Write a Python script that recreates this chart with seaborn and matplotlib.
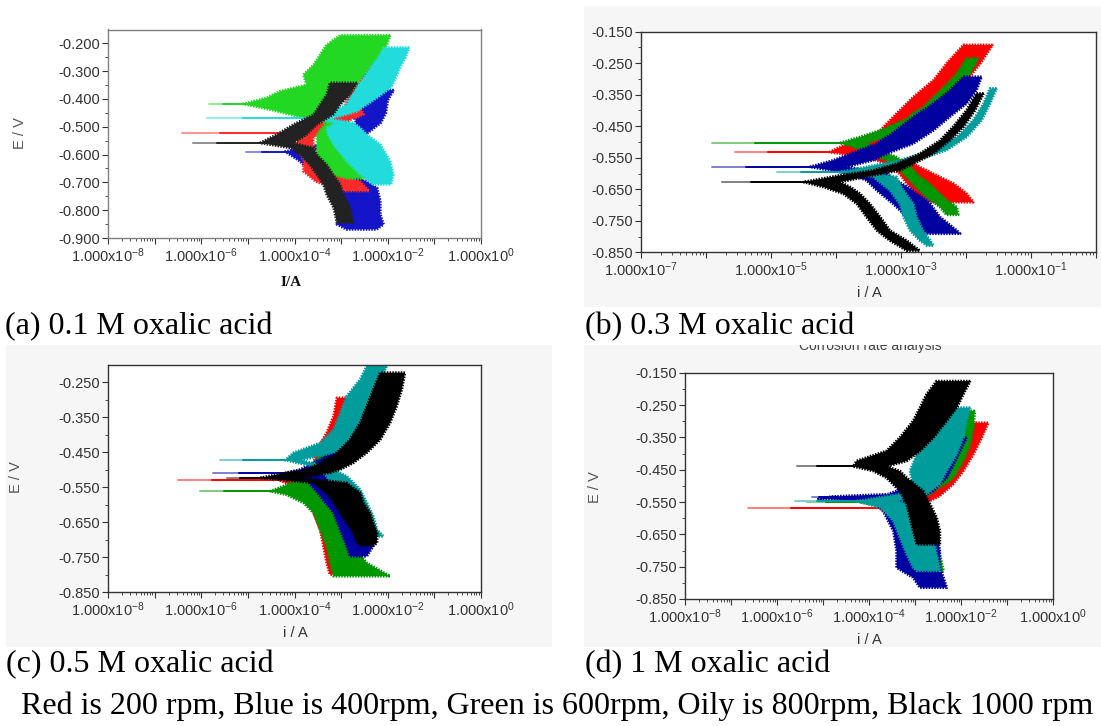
import numpy as np
import matplotlib
matplotlib.use("Agg")
import matplotlib.pyplot as plt
import matplotlib.colors as mcolors
import seaborn as sns
from matplotlib.patches import Rectangle
from matplotlib.transforms import Bbox
from matplotlib.ticker import FixedLocator, FuncFormatter, LogLocator, NullFormatter

# ---------------- data (log10 of current in A, potential in V) ----------------
series_names = ["Red 200 rpm", "Blue 400 rpm", "Green 600 rpm", "Oily 800 rpm", "Black 1000 rpm"]

# (a) 0.1 M
a_red_E = [-0.235, -0.277, -0.313, -0.349, -0.385, -0.432, -0.456, -0.480, -0.504, -0.522, -0.540, -0.576, -0.624, -0.660, -0.696, -0.731]
a_red_lo = [-2.20, -2.41, -2.56, -2.66, -2.81, -2.95, -3.02, -3.31, -3.88, -3.95, -3.95, -3.95, -3.80, -3.81, -3.55, -3.02]
a_red_hi = [-2.08, -2.27, -2.41, -2.52, -2.66, -2.59, -2.52, -2.88, -3.17, -3.45, -3.60, -3.60, -3.50, -3.20, -2.60, -2.40]
a_blue_E = [-0.368, -0.404, -0.450, -0.486, -0.521, -0.555, -0.589, -0.624, -0.684, -0.719, -0.767, -0.815, -0.851, -0.869]
a_blue_lo = [-2.30, -2.55, -2.72, -2.68, -2.60, -3.20, -4.20, -3.88, -3.52, -3.16, -3.02, -3.02, -3.09, -2.88]
a_blue_hi = [-1.87, -2.00, -2.04, -2.15, -2.42, -2.70, -3.80, -3.40, -2.59, -2.23, -2.16, -2.16, -2.09, -2.24]
a_green_E = [-0.171, -0.205, -0.241, -0.277, -0.313, -0.349, -0.372, -0.396, -0.418, -0.438, -0.459, -0.486, -0.528, -0.564, -0.600, -0.636, -0.672, -0.686]
a_green_lo = [-3.02, -3.31, -3.45, -3.59, -3.81, -3.74, -4.31, -4.60, -5.10, -4.52, -4.02, -3.31, -3.52, -3.52, -3.52, -3.38, -3.16, -2.88]
a_green_hi = [-1.95, -2.02, -2.13, -2.31, -2.52, -2.66, -2.88, -3.17, -3.31, -3.45, -3.52, -3.02, -2.88, -2.74, -2.59, -2.45, -2.09, -1.95]
a_oily_E = [-0.215, -0.250, -0.284, -0.320, -0.356, -0.392, -0.420, -0.444, -0.462, -0.470, -0.486, -0.504, -0.528, -0.564, -0.624, -0.672, -0.707]
a_oily_lo = [-2.08, -2.20, -2.35, -2.50, -2.65, -2.80, -2.88, -3.16, -3.52, -3.60, -3.09, -3.31, -3.28, -3.16, -2.88, -2.59, -2.31]
a_oily_hi = [-1.54, -1.62, -1.73, -1.82, -1.92, -2.20, -2.45, -2.66, -3.02, -3.30, -2.73, -2.59, -2.45, -2.16, -1.95, -1.88, -1.93]
a_black_E = [-0.342, -0.385, -0.420, -0.456, -0.492, -0.528, -0.558, -0.576, -0.600, -0.636, -0.672, -0.707, -0.743, -0.791, -0.845]
a_black_lo = [-3.24, -3.31, -3.45, -3.59, -4.02, -4.38, -4.74, -4.09, -3.88, -3.67, -3.52, -3.38, -3.31, -3.16, -3.09]
a_black_hi = [-2.66, -2.81, -3.02, -3.17, -3.52, -3.74, -4.02, -3.59, -3.52, -3.31, -3.17, -3.02, -2.95, -2.81, -2.74]
a_spike_E = [-0.522, -0.589, -0.418, -0.468, -0.558]
a_spike_lo = [-6.42, -5.03, -5.83, -5.88, -6.17]

# (b) 0.3 M
b_red_E = [-0.192, -0.251, -0.304, -0.357, -0.410, -0.463, -0.495, -0.516, -0.532, -0.548, -0.569, -0.601, -0.632, -0.664, -0.691]
b_red_lo = [-2.04, -2.30, -2.50, -2.81, -3.07, -3.32, -3.63, -3.94, -4.10, -3.53, -3.22, -3.02, -2.91, -2.76, -2.61]
b_red_hi = [-1.59, -1.78, -1.99, -2.19, -2.50, -2.76, -3.02, -3.17, -3.40, -3.22, -2.81, -2.50, -2.19, -1.99, -1.89]
b_blue_E = [-0.293, -0.336, -0.378, -0.420, -0.463, -0.505, -0.537, -0.558, -0.579, -0.601, -0.622, -0.654, -0.696, -0.738, -0.781, -0.791]
b_blue_lo = [-2.04, -2.25, -2.50, -2.81, -3.07, -3.37, -3.78, -4.04, -4.40, -3.78, -3.53, -3.37, -3.12, -2.91, -2.76, -2.60]
b_blue_hi = [-1.76, -1.84, -1.99, -2.25, -2.50, -2.81, -3.22, -3.43, -3.84, -3.22, -3.07, -2.81, -2.55, -2.40, -2.14, -2.09]
b_green_E = [-0.235, -0.282, -0.336, -0.388, -0.431, -0.463, -0.484, -0.503, -0.516, -0.548, -0.579, -0.611, -0.643, -0.675, -0.707, -0.731]
b_green_lo = [-1.99, -2.14, -2.40, -2.66, -2.96, -3.32, -3.63, -3.94, -3.73, -3.32, -3.07, -2.91, -2.76, -2.60, -2.40, -2.30]
b_green_hi = [-1.81, -1.94, -2.14, -2.40, -2.66, -2.91, -3.22, -3.53, -3.43, -3.07, -2.86, -2.71, -2.50, -2.35, -2.14, -2.12]
b_oily_E = [-0.330, -0.378, -0.431, -0.484, -0.526, -0.558, -0.579, -0.595, -0.611, -0.654, -0.696, -0.738, -0.781, -0.813, -0.829]
b_oily_lo = [-1.63, -1.73, -1.89, -2.14, -2.50, -3.02, -3.53, -3.94, -3.43, -3.17, -3.02, -2.96, -2.86, -2.71, -2.60]
b_oily_hi = [-1.53, -1.63, -1.76, -1.99, -2.30, -2.76, -3.17, -3.53, -3.07, -2.96, -2.81, -2.76, -2.66, -2.55, -2.50]
b_black_E = [-0.346, -0.399, -0.452, -0.495, -0.537, -0.569, -0.590, -0.606, -0.627, -0.643, -0.664, -0.696, -0.738, -0.781, -0.813, -0.845]
b_black_lo = [-1.84, -1.99, -2.20, -2.40, -2.71, -3.07, -3.43, -3.94, -4.50, -4.19, -3.89, -3.68, -3.53, -3.37, -3.17, -2.91]
b_black_hi = [-1.73, -1.86, -2.04, -2.25, -2.50, -2.81, -3.02, -3.43, -3.94, -3.78, -3.63, -3.48, -3.32, -3.17, -2.91, -2.71]
b_spike_E = [-0.532, -0.579, -0.503, -0.595, -0.627]
b_spike_lo = [-5.55, -5.91, -5.91, -4.91, -5.76]

# (c) 0.5 M
c_red_E = [-0.294, -0.346, -0.394, -0.442, -0.480, -0.508, -0.530, -0.547, -0.575, -0.623, -0.671, -0.718, -0.766, -0.799]
c_red_lo = [-3.09, -3.16, -3.31, -3.52, -3.59, -3.88, -4.31, -4.02, -3.74, -3.59, -3.45, -3.38, -3.31, -3.24]
c_red_hi = [-2.66, -2.81, -2.88, -3.02, -3.16, -3.31, -3.52, -3.45, -3.16, -3.09, -3.02, -2.88, -2.74, -2.45]
c_blue_E = [-0.250, -0.280, -0.337, -0.384, -0.432, -0.470, -0.499, -0.508, -0.528, -0.575, -0.623, -0.671, -0.718, -0.747]
c_blue_lo = [-2.45, -2.52, -2.66, -2.81, -3.09, -3.45, -3.88, -4.17, -3.74, -3.45, -3.16, -3.02, -2.88, -2.81]
c_blue_hi = [-2.05, -2.16, -2.23, -2.38, -2.59, -2.88, -3.16, -3.52, -3.16, -2.88, -2.59, -2.38, -2.31, -2.45]
c_green_E = [-0.337, -0.384, -0.432, -0.470, -0.499, -0.528, -0.561, -0.571, -0.594, -0.623, -0.671, -0.718, -0.766, -0.804]
c_green_lo = [-2.55, -2.81, -3.24, -3.52, -3.74, -3.88, -4.52, -4.17, -3.81, -3.59, -3.45, -3.31, -3.24, -3.16]
c_green_hi = [-2.20, -2.45, -2.66, -2.88, -3.16, -3.31, -3.52, -3.45, -3.16, -3.02, -2.88, -2.74, -2.45, -1.95]
c_oily_E = [-0.203, -0.241, -0.289, -0.337, -0.384, -0.423, -0.451, -0.472, -0.490, -0.518, -0.556, -0.594, -0.633, -0.671, -0.690]
c_oily_lo = [-2.45, -2.59, -2.88, -3.02, -3.16, -3.45, -4.02, -4.20, -3.60, -3.31, -3.16, -3.02, -2.81, -2.59, -2.45]
c_oily_hi = [-2.02, -2.16, -2.31, -2.45, -2.59, -2.81, -3.16, -3.88, -3.30, -2.88, -2.59, -2.45, -2.31, -2.23, -2.09]
c_black_E = [-0.222, -0.270, -0.318, -0.365, -0.413, -0.451, -0.480, -0.499, -0.508, -0.523, -0.537, -0.566, -0.594, -0.623, -0.652, -0.680, -0.709, -0.716]
c_black_lo = [-2.16, -2.31, -2.45, -2.59, -2.81, -3.09, -3.45, -3.74, -4.17, -4.74, -3.59, -3.31, -3.16, -3.02, -2.88, -2.74, -2.66, -2.59]
c_black_hi = [-1.63, -1.70, -1.81, -1.95, -2.16, -2.45, -2.74, -3.02, -3.24, -3.88, -2.88, -2.59, -2.52, -2.38, -2.31, -2.23, -2.23, -2.31]
c_spike_E = [-0.530, -0.508, -0.561, -0.472, -0.523]
c_spike_lo = [-6.49, -5.74, -6.03, -5.60, -5.45]

# (d) 1 M
d_red_E = [-0.305, -0.351, -0.402, -0.454, -0.495, -0.531, -0.552, -0.569, -0.588, -0.660, -0.722]
d_red_lo = [-1.73, -1.80, -2.02, -2.31, -2.53, -2.82, -3.33, -3.76, -3.62, -3.18, -3.04]
d_red_hi = [-1.41, -1.55, -1.73, -1.95, -2.17, -2.46, -2.75, -3.40, -2.96, -2.60, -2.53]
d_blue_E = [-0.351, -0.413, -0.475, -0.516, -0.526, -0.533, -0.540, -0.548, -0.578, -0.640, -0.701, -0.753, -0.784, -0.815]
d_blue_lo = [-2.46, -2.75, -2.96, -3.40, -3.60, -4.80, -5.10, -3.90, -3.69, -3.47, -3.40, -3.40, -3.04, -2.89]
d_blue_hi = [-1.88, -2.09, -2.31, -2.60, -2.75, -3.00, -3.20, -3.00, -2.82, -2.53, -2.46, -2.46, -2.38, -2.31]
d_green_E = [-0.268, -0.320, -0.372, -0.423, -0.475, -0.505, -0.531, -0.550, -0.567, -0.609, -0.660, -0.712, -0.763, -0.774]
d_green_lo = [-1.88, -1.95, -2.09, -2.31, -2.53, -2.75, -3.18, -4.20, -3.62, -3.40, -3.33, -3.33, -3.25, -3.04]
d_green_hi = [-1.70, -1.73, -1.80, -1.95, -2.17, -2.46, -2.75, -3.33, -2.89, -2.67, -2.53, -2.46, -2.38, -2.46]
d_oily_E = [-0.258, -0.299, -0.351, -0.402, -0.454, -0.495, -0.526, -0.547, -0.567, -0.609, -0.660, -0.712, -0.753, -0.763]
d_oily_lo = [-2.31, -2.53, -2.75, -2.96, -3.11, -3.04, -3.33, -4.27, -3.76, -3.47, -3.33, -3.18, -3.04, -2.96]
d_oily_hi = [-1.80, -1.88, -1.95, -2.09, -2.31, -2.46, -2.75, -3.40, -2.89, -2.75, -2.60, -2.53, -2.46, -2.46]
d_black_E = [-0.176, -0.217, -0.258, -0.299, -0.351, -0.392, -0.423, -0.440, -0.454, -0.475, -0.516, -0.557, -0.598, -0.640, -0.681]
d_black_lo = [-2.53, -2.75, -2.89, -3.04, -3.33, -3.62, -4.27, -4.34, -3.91, -3.62, -3.33, -3.18, -3.11, -3.04, -2.96]
d_black_hi = [-1.80, -1.95, -2.09, -2.31, -2.60, -2.89, -3.18, -3.62, -3.33, -3.18, -2.82, -2.67, -2.53, -2.46, -2.46]
d_spike_E = [-0.569, -0.536, -0.550, -0.547, -0.440]
d_spike_lo = [-6.62, -5.25, -5.35, -5.61, -5.57]

# axis ticks
a_yticks = [-0.200, -0.300, -0.400, -0.500, -0.600, -0.700, -0.800, -0.900]
b_yticks = [-0.150, -0.250, -0.350, -0.450, -0.550, -0.650, -0.750, -0.850]
c_yticks = [-0.250, -0.350, -0.450, -0.550, -0.650, -0.750, -0.850]
d_yticks = [-0.150, -0.250, -0.350, -0.450, -0.550, -0.650, -0.750, -0.850]
captions = ["(a) 0.1 M oxalic acid", "(b) 0.3 M oxalic acid", "(c) 0.5 M oxalic acid", "(d) 1 M oxalic acid"]
footnote = "Red is 200 rpm, Blue is 400rpm, Green is 600rpm, Oily is 800rpm, Black 1000 rpm"
d_title = "Corrosion rate analysis"

# ---------------- style ----------------
sns.set_theme(style="white")
plt.rcParams["font.family"] = ["Liberation Sans", "DejaVu Sans"]
plt.rcParams["mathtext.fontset"] = "custom"
plt.rcParams["mathtext.rm"] = "Liberation Sans"
plt.rcParams["mathtext.default"] = "rm"

W, H = 1101, 726
fig = plt.figure(figsize=(W / 100, H / 100), dpi=100)
fig.patch.set_facecolor("white")

def fx(px):
    return px / W

def fy(py):
    return 1 - py / H

def tint(col, f):
    r, g, b = mcolors.to_rgb(col)
    return (r + (1 - r) * f, g + (1 - g) * f, b + (1 - b) * f)

# light grey screenshot panels
for (x0, y0, x1, y1) in [(584, 6, 1101, 307), (6, 345, 552, 647), (584, 345, 1101, 647)]:
    fig.patches.append(Rectangle((fx(x0), fy(y1)), fx(x1 - x0), (y1 - y0) / H,
                                 transform=fig.transFigure, facecolor="#f6f6f6",
                                 edgecolor="none", zorder=-5))

palette_a = ["#ff2a2a", "#1414c8", "#22d822", "#22dcdc", "#222222"]
palette_b = ["#ff0000", "#0000a0", "#009600", "#009c9c", "#000000"]

panels = [
    dict(rect=(108, 29.5, 481, 238), xlim=(-8, 0), ylim=(-0.90, -0.15), yticks=a_yticks,
         pal=palette_a, order=[1, 0, 2, 3, 4],
         curves=[(a_red_E, a_red_lo, a_red_hi), (a_blue_E, a_blue_lo, a_blue_hi),
                 (a_green_E, a_green_lo, a_green_hi), (a_oily_E, a_oily_lo, a_oily_hi),
                 (a_black_E, a_black_lo, a_black_hi)],
         spikes=(a_spike_E, a_spike_lo), xlabel="I/A", xl=(291, 283), ylabel="E / V", yl=(20, 133),
         spine="#808080"),
    dict(rect=(641, 31.7, 1096, 252.3), xlim=(-7, 0), ylim=(-0.85, -0.15), yticks=b_yticks,
         pal=palette_b, order=[0, 2, 1, 3, 4],
         curves=[(b_red_E, b_red_lo, b_red_hi), (b_blue_E, b_blue_lo, b_blue_hi),
                 (b_green_E, b_green_lo, b_green_hi), (b_oily_E, b_oily_lo, b_oily_hi),
                 (b_black_E, b_black_lo, b_black_hi)],
         spikes=(b_spike_E, b_spike_lo), xlabel="i / A", xl=(869, 293), ylabel=None, yl=None,
         spine="#333333"),
    dict(rect=(108, 365, 481, 592.3), xlim=(-8, 0), ylim=(-0.85, -0.20), yticks=c_yticks,
         pal=palette_b, order=[0, 2, 1, 3, 4],
         curves=[(c_red_E, c_red_lo, c_red_hi), (c_blue_E, c_blue_lo, c_blue_hi),
                 (c_green_E, c_green_lo, c_green_hi), (c_oily_E, c_oily_lo, c_oily_hi),
                 (c_black_E, c_black_lo, c_black_hi)],
         spikes=(c_spike_E, c_spike_lo), xlabel="i / A", xl=(295, 633), ylabel="E / V", yl=(16, 477),
         spine="#333333"),
    dict(rect=(685, 372.7, 1053, 599), xlim=(-8, 0), ylim=(-0.85, -0.15), yticks=d_yticks,
         pal=palette_b, order=[0, 2, 1, 3, 4],
         curves=[(d_red_E, d_red_lo, d_red_hi), (d_blue_E, d_blue_lo, d_blue_hi),
                 (d_green_E, d_green_lo, d_green_hi), (d_oily_E, d_oily_lo, d_oily_hi),
                 (d_black_E, d_black_lo, d_black_hi)],
         spikes=(d_spike_E, d_spike_lo), xlabel="i / A", xl=(869, 640), ylabel="E / V", yl=(595, 487),
         spine="#333333"),
]

for k, p in enumerate(panels):
    x0, y0, x1, y1 = p["rect"]
    ax = fig.add_axes([fx(x0), fy(y1), (x1 - x0) / W, (y1 - y0) / H])
    ax.set_zorder(1)
    ax.set_facecolor("white")
    ax.set_xscale("log")
    emin, emax = p["xlim"]
    ax.set_xlim(10.0 ** emin, 10.0 ** emax)
    ax.set_ylim(*p["ylim"])

    for z, idx in enumerate(p["order"]):
        E, lo, hi = (np.asarray(v, dtype=float) for v in p["curves"][idx])
        col = p["pal"][idx]
        # serrated edge standing in for the noisy scan
        ax.fill_betweenx(E, 10.0 ** lo, 10.0 ** hi, facecolor=col, edgecolor=col,
                         lw=2.0, linestyle=(0, (0.55, 0.45)), zorder=2 + z)
        sE = p["spikes"][0][idx]
        sLo = p["spikes"][1][idx]
        end = np.interp(sE, E[::-1], lo[::-1]) + 0.25
        mid = sLo + 0.3 * (end - sLo)
        sns.lineplot(x=[10.0 ** sLo, 10.0 ** mid], y=[sE, sE], ax=ax, color=tint(col, 0.5),
                     lw=1.4, sort=False, estimator=None, legend=False, zorder=2 + z)
        sns.lineplot(x=[10.0 ** mid, 10.0 ** end], y=[sE, sE], ax=ax, color=col,
                     lw=1.4, sort=False, estimator=None, legend=False, zorder=2 + z)

    # ticks
    ax.xaxis.set_major_locator(LogLocator(base=10, numticks=20))
    ax.xaxis.set_minor_locator(LogLocator(base=10, subs=np.arange(2, 10), numticks=100))
    ax.xaxis.set_minor_formatter(NullFormatter())

    def xfmt(v, pos, emin=emin):
        e = int(round(np.log10(v)))
        if (e - emin) % 2 != 0:
            return ""
        return "1.000x10$^{%d}$" % e
    ax.xaxis.set_major_formatter(FuncFormatter(xfmt))
    ax.yaxis.set_major_locator(FixedLocator(p["yticks"]))
    ax.yaxis.set_minor_locator(FixedLocator([t - 0.05 for t in p["yticks"]]))
    ax.yaxis.set_major_formatter(FuncFormatter(lambda v, pos: "%.3f" % v))
    ax.tick_params(axis="both", which="major", direction="out", length=4, width=0.8,
                   labelsize=10.5, colors="#333333", pad=2)
    ax.tick_params(axis="both", which="minor", direction="out", length=2.5, width=0.6, colors="#333333")
    ax.tick_params(axis="x", which="both", bottom=True)
    ax.tick_params(axis="y", which="both", left=True)
    for s in ax.spines.values():
        s.set_visible(True)
        s.set_color(p["spine"])
        s.set_linewidth(1.0)
        s.set_zorder(20)

    # axis labels
    if k == 0:
        ax.set_xlabel(p["xlabel"], family="Liberation Serif", fontweight="bold", fontsize=11, color="#111111")
    else:
        ax.set_xlabel(p["xlabel"], fontsize=10.5, color="#333333")
    ax.xaxis.set_label_coords((p["xl"][0] - x0) / (x1 - x0), (y1 - p["xl"][1]) / (y1 - y0))
    ax.xaxis.label.set_va("center")
    if p["ylabel"]:
        ax.set_ylabel(p["ylabel"], fontsize=10.5, color="#555555")
        ax.yaxis.set_label_coords((p["yl"][0] - x0) / (x1 - x0), (y1 - p["yl"][1]) / (y1 - y0))
        ax.yaxis.label.set_va("center")

# captions
cap_font = dict(family="Liberation Serif", fontsize=23, color="black", va="center", ha="left")
fig.text(fx(5), fy(327), captions[0], **cap_font)
fig.text(fx(585), fy(327), captions[1], **cap_font)
fig.text(fx(6), fy(665), captions[2], **cap_font)
fig.text(fx(585), fy(665), captions[3], **cap_font)
fig.text(fx(557), fy(706), footnote, family="Liberation Serif", fontsize=23, color="black",
         va="center", ha="center")

# partially cropped title of panel (d)
t = fig.text(fx(870), fy(345.5), d_title, ha="center", va="center", fontsize=10, color="#444444")
t.set_clip_on(True)
t.set_clip_box(Bbox([[584, H - 647], [1101, H - 345]]))

fig.savefig("out.png", dpi=100)
